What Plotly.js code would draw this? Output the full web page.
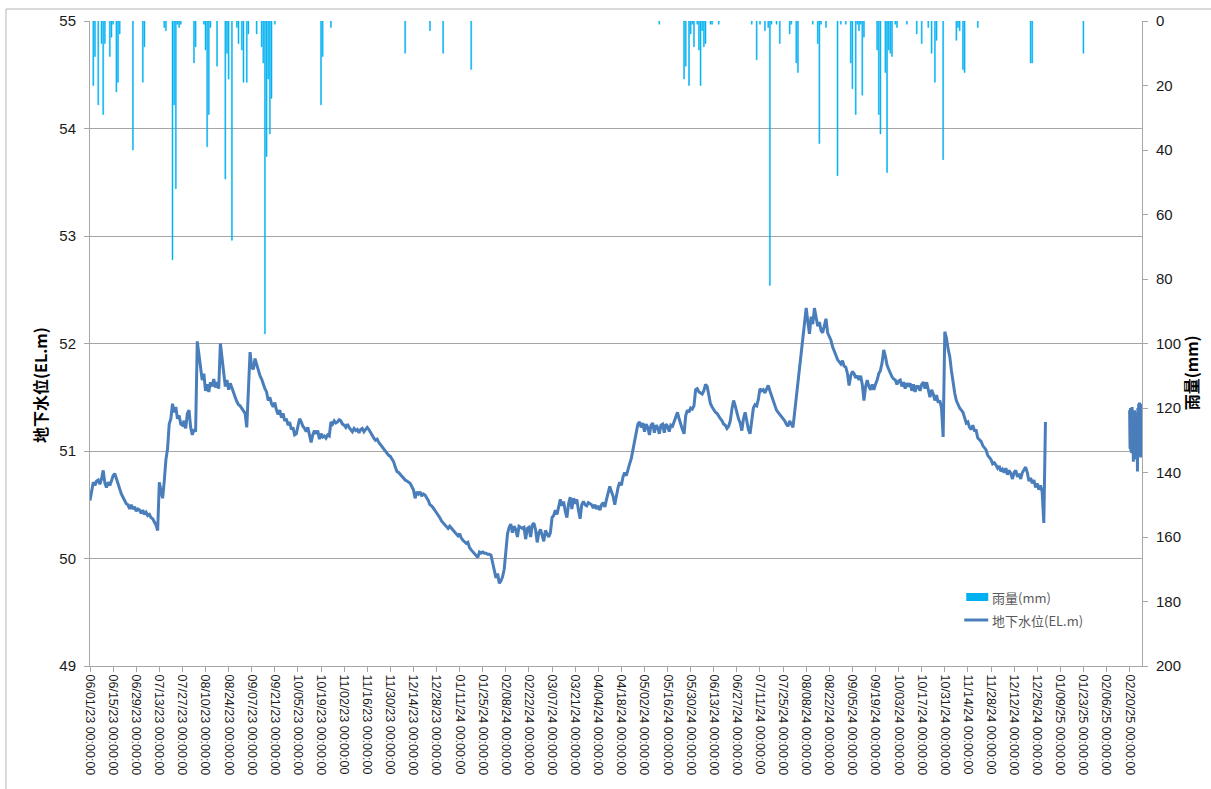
<!DOCTYPE html>
<html><head><meta charset="utf-8">
<script src="https://cdn.plot.ly/plotly-3.0.1.min.js"></script>
<style>html,body{margin:0;padding:0;background:#fff}#chart{width:1211px;height:789px}</style>
</head><body><div id="chart"></div>
<script>
// ---------- DATA ----------
const xTickLabels = [
 '06/01/23 00:00:00','06/15/23 00:00:00','06/29/23 00:00:00','07/13/23 00:00:00','07/27/23 00:00:00','08/10/23 00:00:00',
 '08/24/23 00:00:00','09/07/23 00:00:00','09/21/23 00:00:00','10/05/23 00:00:00','10/19/23 00:00:00','11/02/23 00:00:00',
 '11/16/23 00:00:00','11/30/23 00:00:00','12/14/23 00:00:00','12/28/23 00:00:00','01/11/24 00:00:00','01/25/24 00:00:00',
 '02/08/24 00:00:00','02/22/24 00:00:00','03/07/24 00:00:00','03/21/24 00:00:00','04/04/24 00:00:00','04/18/24 00:00:00',
 '05/02/24 00:00:00','05/16/24 00:00:00','05/30/24 00:00:00','06/13/24 00:00:00','06/27/24 00:00:00','07/11/24 00:00:00',
 '07/25/24 00:00:00','08/08/24 00:00:00','08/22/24 00:00:00','09/05/24 00:00:00','09/19/24 00:00:00','10/03/24 00:00:00',
 '10/17/24 00:00:00','10/31/24 00:00:00','11/14/24 00:00:00','11/28/24 00:00:00','12/12/24 00:00:00','12/26/24 00:00:00',
 '01/09/25 00:00:00','01/23/25 00:00:00','02/06/25 00:00:00','02/20/25 00:00:00'];

const rainDates = [
 '2023-06-03','2023-06-04','2023-06-06','2023-06-08','2023-06-09','2023-06-10','2023-06-13','2023-06-14','2023-06-15',
 '2023-06-17','2023-06-18','2023-06-19','2023-06-27','2023-07-03','2023-07-04','2023-07-16','2023-07-17','2023-07-21',
 '2023-07-22','2023-07-23','2023-07-24','2023-07-25','2023-07-26','2023-08-03','2023-08-04','2023-08-09','2023-08-10',
 '2023-08-11','2023-08-12','2023-08-13','2023-08-17','2023-08-22','2023-08-23','2023-08-24','2023-08-26','2023-08-29',
 '2023-08-30','2023-09-01','2023-09-02','2023-09-04','2023-09-05','2023-09-10','2023-09-13','2023-09-14','2023-09-15',
 '2023-09-16','2023-09-17','2023-09-18','2023-09-19','2023-09-21','2023-10-19','2023-10-20','2023-10-25','2023-12-09',
 '2023-12-24','2024-01-01','2024-01-18','2024-05-11','2024-05-26','2024-05-27','2024-05-29','2024-05-30','2024-05-31',
 '2024-06-01','2024-06-03','2024-06-04','2024-06-05','2024-06-06','2024-06-07','2024-06-08','2024-06-11','2024-06-12',
 '2024-06-16','2024-07-06','2024-07-09','2024-07-11','2024-07-14','2024-07-16','2024-07-17','2024-07-18','2024-07-21',
 '2024-07-23','2024-07-29','2024-07-30','2024-08-02','2024-08-03','2024-08-12','2024-08-15','2024-08-16','2024-08-17',
 '2024-08-20','2024-08-27','2024-08-29','2024-09-01','2024-09-04','2024-09-05','2024-09-07','2024-09-08','2024-09-09',
 '2024-09-10','2024-09-11','2024-09-12','2024-09-20','2024-09-21','2024-09-22','2024-09-25','2024-09-26','2024-09-27',
 '2024-09-28','2024-09-29','2024-10-01','2024-10-02','2024-10-08','2024-10-14','2024-10-17','2024-10-21','2024-10-23',
 '2024-10-25','2024-10-26','2024-10-30','2024-11-07','2024-11-08','2024-11-09','2024-11-11','2024-11-12','2024-11-20',
 '2024-12-22','2024-12-23','2025-01-23'];
const rainMm = [
 20,11,26,7,29,7,11,5,1,
 22,19,4,40,19,8,2,3,74,
 26,52,1,2,1,13,8,1,9,
 39,29,2,14,49,10,18,68,2,
 7,9,19,19,4,4,8,13,97,
 42,18,35,24,1,26,11,2,10,
 3,10,15,1,18,14,20,4,1,
 8,1,9,20,3,8,7,1,1,
 1,1,12,1,3,2,82,1,1,
 7,4,1,13,16,1,7,38,1,
 2,48,1,1,13,21,29,1,3,
 1,23,5,9,29,35,16,47,9,
 10,11,1,2,1,4,7,2,10,
 19,6,43,6,2,3,15,16,2,
 13,13,10];

// groundwater level, one value per day of each month (EL.m)
const lv2023_06 = [50.54,50.64,50.71,50.68,50.72,50.73,50.69,50.74,50.82,50.70,50.66,50.71,50.68,50.72,50.77,50.79,50.74,50.70,50.65,50.60,50.57,50.54,50.51,50.50,50.46,50.50,50.46,50.48,50.44,50.46];
const lv2023_07 = [50.45,50.42,50.45,50.41,50.43,50.40,50.41,50.38,50.37,50.34,50.31,50.26,50.71,50.63,50.56,50.72,50.92,51.02,51.25,51.30,51.44,51.36,51.41,51.30,51.33,51.25,51.24,51.28,51.21,51.35,51.38];
const lv2023_08 = [51.22,51.15,51.20,51.18,52.02,51.88,51.74,51.66,51.72,51.56,51.62,51.55,51.64,51.60,51.67,51.59,51.64,51.58,52.00,51.86,51.72,51.60,51.66,51.57,51.63,51.58,51.54,51.50,51.46,51.43,51.42];
const lv2023_09 = [51.40,51.38,51.35,51.22,51.62,51.92,51.78,51.76,51.86,51.80,51.74,51.70,51.67,51.62,51.58,51.55,51.47,51.50,51.44,51.41,51.45,51.38,51.34,51.38,51.31,51.35,51.28,51.30,51.24,51.27];
const lv2023_10 = [51.20,51.22,51.15,51.16,51.24,51.30,51.27,51.23,51.21,51.18,51.22,51.14,51.08,51.15,51.19,51.16,51.19,51.11,51.16,51.13,51.14,51.12,51.15,51.14,51.27,51.25,51.28,51.26,51.27,51.29,51.28];
const lv2023_11 = [51.25,51.24,51.22,51.25,51.22,51.20,51.18,51.21,51.19,51.20,51.17,51.20,51.21,51.18,51.20,51.22,51.20,51.17,51.14,51.12,51.10,51.11,51.08,51.06,51.04,51.01,51.00,50.98,50.96,50.95];
const lv2023_12 = [50.92,50.90,50.85,50.81,50.80,50.78,50.77,50.75,50.73,50.72,50.71,50.70,50.67,50.64,50.56,50.62,50.60,50.62,50.58,50.60,50.59,50.57,50.54,50.50,50.49,50.47,50.45,50.43,50.40,50.38,50.35];
const lv2024_01 = [50.33,50.31,50.29,50.28,50.30,50.28,50.27,50.25,50.23,50.21,50.23,50.19,50.17,50.15,50.14,50.15,50.10,50.08,50.06,50.04,50.03,50.01,50.06,50.05,50.06,50.05,50.05,50.04,50.04,50.03,49.96];
const lv2024_02 = [49.90,49.82,49.86,49.77,49.79,49.83,49.90,50.05,50.23,50.29,50.32,50.24,50.30,50.27,50.20,50.30,50.29,50.28,50.29,50.18,50.28,50.29,50.20,50.31,50.33,50.27,50.15,50.24,50.27];
const lv2024_03 = [50.21,50.16,50.26,50.23,50.20,50.24,50.38,50.40,50.45,50.41,50.49,50.55,50.49,50.53,50.44,50.38,50.51,50.57,50.46,50.56,50.51,50.55,50.45,50.37,50.50,50.53,50.50,50.49,50.52,50.51,50.50];
const lv2024_04 = [50.47,50.50,50.46,50.49,50.45,50.50,50.52,50.48,50.55,50.62,50.67,50.62,50.58,50.50,50.60,50.66,50.71,50.68,50.76,50.80,50.77,50.84,50.88,50.93,51.01,51.12,51.20,51.25,51.27,51.22];
const lv2024_05 = [51.26,51.18,51.25,51.22,51.15,51.24,51.26,51.17,51.24,51.22,51.16,51.24,51.25,51.17,51.25,51.23,51.18,51.24,51.23,51.28,51.32,51.36,51.30,51.24,51.20,51.16,51.33,51.38,51.36,51.40,51.39];
const lv2024_06 = [51.42,51.57,51.58,51.55,51.54,51.53,51.56,51.62,51.60,51.52,51.44,51.41,51.38,51.36,51.35,51.32,51.30,51.28,51.25,51.24,51.21,51.23,51.28,51.39,51.47,51.42,51.35,51.30,51.26,51.19];
const lv2024_07 = [51.30,51.36,51.28,51.20,51.16,51.30,51.40,51.43,51.42,51.48,51.58,51.56,51.57,51.54,51.58,51.61,51.56,51.51,51.47,51.42,51.38,51.36,51.34,51.33,51.30,51.28,51.25,51.23,51.28,51.25,51.22];
const lv2024_08 = [51.36,51.49,51.62,51.75,51.88,52.01,52.15,52.33,52.20,52.09,52.25,52.18,52.33,52.24,52.16,52.20,52.12,52.10,52.16,52.23,52.10,52.06,52.03,51.97,51.92,51.89,51.85,51.83,51.81,51.84,51.79];
const lv2024_09 = [51.78,51.72,51.61,51.70,51.74,51.72,51.68,51.70,51.66,51.70,51.62,51.47,51.60,51.66,51.60,51.57,51.62,51.57,51.62,51.66,51.72,51.75,51.82,51.94,51.88,51.80,51.76,51.72,51.69,51.67];
const lv2024_10 = [51.66,51.62,51.65,51.66,51.60,51.64,51.58,51.63,51.60,51.63,51.56,51.62,51.55,51.60,51.60,51.56,51.62,51.64,51.58,51.64,51.55,51.50,51.57,51.53,51.47,51.52,51.45,51.47,51.40,51.13,52.11];
const lv2024_11 = [52.05,51.95,51.88,51.75,51.63,51.54,51.47,51.43,51.40,51.38,51.36,51.31,51.26,51.27,51.22,51.20,51.24,51.19,51.19,51.12,51.10,51.09,51.05,51.03,51.01,50.96,50.94,50.92,50.88,50.89];
const lv2024_12 = [50.87,50.84,50.86,50.81,50.83,50.80,50.84,50.78,50.82,50.79,50.74,50.80,50.82,50.76,50.79,50.74,50.80,50.82,50.85,50.80,50.72,50.75,50.70,50.73,50.66,50.70,50.64,50.68,50.62,50.33,51.27];
const levelMonths = [
 ['2023-06',lv2023_06],['2023-07',lv2023_07],['2023-08',lv2023_08],['2023-09',lv2023_09],['2023-10',lv2023_10],
 ['2023-11',lv2023_11],['2023-12',lv2023_12],['2024-01',lv2024_01],['2024-02',lv2024_02],['2024-03',lv2024_03],
 ['2024-04',lv2024_04],['2024-05',lv2024_05],['2024-06',lv2024_06],['2024-07',lv2024_07],['2024-08',lv2024_08],
 ['2024-09',lv2024_09],['2024-10',lv2024_10],['2024-11',lv2024_11],['2024-12',lv2024_12]];

// Feb 2025 record (6-hourly)
const febTimes = [
 '2025-02-20 00:00','2025-02-20 06:00','2025-02-20 12:00','2025-02-20 18:00',
 '2025-02-21 00:00','2025-02-21 06:00','2025-02-21 12:00','2025-02-21 18:00',
 '2025-02-22 00:00','2025-02-22 06:00','2025-02-22 12:00','2025-02-22 18:00',
 '2025-02-23 00:00','2025-02-23 06:00','2025-02-23 12:00','2025-02-23 18:00',
 '2025-02-24 00:00','2025-02-24 06:00','2025-02-24 12:00','2025-02-24 18:00',
 '2025-02-25 00:00','2025-02-25 06:00','2025-02-25 12:00','2025-02-25 18:00',
 '2025-02-26 00:00','2025-02-26 06:00','2025-02-26 12:00','2025-02-26 18:00',
 '2025-02-27 00:00','2025-02-27 06:00','2025-02-27 12:00'];
const febLevels = [
 51.38,51.02,51.40,51.00, 51.36,50.98,51.41,51.05, 51.37,50.90,51.35,50.96,
 51.38,50.92,51.36,51.00, 51.34,50.93,51.30,50.81, 51.40,50.95,51.44,51.00,
 51.45,50.96,51.42,50.94, 51.44,51.02,51.40];

// ---------- BUILD ----------
const levelX = [], levelY = [];
levelMonths.forEach(([ym, arr]) => {
  arr.forEach((v, i) => { levelX.push(ym + '-' + String(i + 1).padStart(2, '0')); levelY.push(v); });
});
const tickVals = xTickLabels.map(s => '20' + s.slice(6, 8) + '-' + s.slice(0, 2) + '-' + s.slice(3, 5));

const lineColor = '#4A7EBB', rainColor = '#00B0F0', axisGray = '#a6a6a6';
const plotL = 90, plotR = 1141.7, plotT = 21, plotB = 666;
const PW = plotR - plotL, PH = plotB - plotT;
const px = x => (x - plotL) / PW, py = y => (plotB - y) / PH;

const traces = [
  { type: 'scatter', mode: 'lines', x: levelX, y: levelY, yaxis: 'y', name: '地下水位(EL.m)',
    line: { color: lineColor, width: 3 }, hoverinfo: 'skip', showlegend: false },
  { type: 'scatter', mode: 'lines', x: febTimes, y: febLevels, yaxis: 'y', name: '地下水位(EL.m)',
    line: { color: lineColor, width: 3 }, hoverinfo: 'skip', showlegend: false },
  { type: 'bar', x: rainDates, y: rainMm, yaxis: 'y2', name: '雨量(mm)', width: 0.6 * 86400000,
    marker: { color: rainColor, line: { color: rainColor, width: 0.5 } }, hoverinfo: 'skip', showlegend: false }
];

const tickFontY = { family: 'Liberation Sans, Arial, sans-serif', size: 15, color: '#1a1a1a' };
const cjk = 'Noto Sans CJK TC, Noto Sans CJK SC, sans-serif';

const layout = {
  width: 1211, height: 789,
  margin: { l: plotL, r: 1211 - plotR, t: plotT, b: 789 - plotB, pad: 0 },
  paper_bgcolor: '#fff', plot_bgcolor: '#fff',
  showlegend: false, bargap: 0,
  xaxis: {
    type: 'date', range: ['2023-06-01', '2025-02-27 12:00'],
    tickmode: 'array', tickvals: tickVals, ticktext: xTickLabels, tickangle: 90,
    ticks: 'outside', ticklen: 5, tickcolor: axisGray, showline: true, linecolor: axisGray, linewidth: 1,
    showgrid: false, zeroline: false,
    tickfont: { family: 'Liberation Sans, Arial, sans-serif', size: 12.5, color: '#1a1a1a' }
  },
  yaxis: {
    range: [49, 55], tick0: 49, dtick: 1, ticks: 'outside', ticklen: 5, tickcolor: axisGray,
    showline: true, linecolor: axisGray, showgrid: true, gridcolor: axisGray, gridwidth: 1,
    zeroline: false, tickfont: tickFontY, ticklabelstandoff: 5
  },
  yaxis2: {
    overlaying: 'y', side: 'right', range: [200, 0], tick0: 0, dtick: 20,
    ticks: 'outside', ticklen: 5, tickcolor: axisGray, showline: true, linecolor: axisGray,
    showgrid: false, zeroline: false, tickfont: tickFontY, ticklabelstandoff: 5
  },
  shapes: [
    { type: 'line', xref: 'paper', yref: 'paper', x0: px(6), x1: px(6), y0: py(795), y1: py(9), line: { color: '#b4b4b4', width: 1 } },
    { type: 'line', xref: 'paper', yref: 'paper', x0: px(6), x1: px(1215), y0: py(9), y1: py(9), line: { color: '#b4b4b4', width: 1 } },
    { type: 'rect', xref: 'paper', yref: 'paper', x0: px(966), x1: px(988), y0: py(601), y1: py(593), fillcolor: rainColor, line: { width: 0 } },
    { type: 'line', xref: 'paper', yref: 'paper', x0: px(964), x1: px(988), y0: py(620), y1: py(620), line: { color: lineColor, width: 3 } }
  ],
  annotations: [
    { xref: 'paper', yref: 'paper', x: px(990), y: py(597), xanchor: 'left', yanchor: 'middle', showarrow: false,
      text: '雨量(mm)', font: { family: cjk, size: 13, color: '#595959' } },
    { xref: 'paper', yref: 'paper', x: px(990), y: py(620), xanchor: 'left', yanchor: 'middle', showarrow: false,
      text: '地下水位(EL.m)', font: { family: cjk, size: 13, color: '#595959' } },
    { xref: 'paper', yref: 'paper', x: px(40), y: py(385), xanchor: 'center', yanchor: 'middle', showarrow: false,
      textangle: -90, text: '<b>地下水位(EL.m)</b>', font: { family: cjk, size: 16, color: '#000' } },
    { xref: 'paper', yref: 'paper', x: px(1191), y: py(373), xanchor: 'center', yanchor: 'middle', showarrow: false,
      textangle: -90, text: '<b>雨量(mm)</b>', font: { family: cjk, size: 16, color: '#000' } }
  ]
};

Plotly.newPlot('chart', traces, layout, { staticPlot: true, displayModeBar: false });
</script></body></html>
